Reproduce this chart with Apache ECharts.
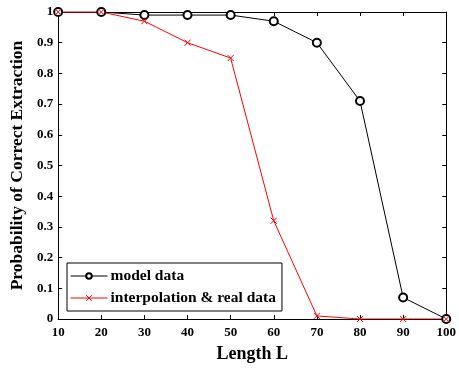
<!DOCTYPE html>
<html><head><meta charset="utf-8">
<script src="https://cdn.jsdelivr.net/npm/echarts@6/dist/echarts.min.js"></script>
<style>html,body{margin:0;padding:0;background:#fff}#c{width:459px;height:369px}</style>
</head><body><div id="c"></div>
<script>
var lengths = [10, 20, 30, 40, 50, 60, 70, 80, 90, 100];
var modelData = [1, 1, 0.99, 0.99, 0.99, 0.97, 0.90, 0.71, 0.07, 0];
var interpData = [1, 1, 0.97, 0.90, 0.85, 0.32, 0.01, 0, 0, 0];
var seriesNames = ['model data', 'interpolation & real data'];
var xTitle = 'Length L';
var yTitle = 'Probability of Correct Extraction';

var font = 'Liberation Serif';
function pairs(xs, ys){ return xs.map(function(x,i){ return [x, ys[i]]; }); }
var chart = echarts.init(document.getElementById('c'));
var axisCommon = {
  axisLine:{show:true, onZero:false, lineStyle:{color:'#000', width:1}},
  axisTick:{show:true, inside:true, length:4, lineStyle:{color:'#000'}},
  splitLine:{show:false}
};
chart.setOption({
  animation:false,
  backgroundColor:'#fff',
  grid:{left:55, right:12, top:12, bottom:50},
  legend:{
    left:67, top:263, orient:'vertical', itemWidth:37, itemHeight:7, itemGap:6,
    borderColor:'#000', borderWidth:1, padding:[5,6,5,3],
    lineStyle:{width:1}, itemStyle:{borderWidth:1},
    textStyle:{fontFamily:font, fontWeight:'bold', fontSize:15.5, color:'#000', padding:[0,0,0,-2]},
    data:seriesNames
  },
  xAxis:[Object.assign({type:'value', min:10, max:100, interval:10,
    name:xTitle, nameLocation:'middle', nameGap:26,
    nameTextStyle:{fontFamily:font, fontWeight:'bold', fontSize:18, color:'#000'},
    axisLabel:{fontFamily:font, fontWeight:'bold', fontSize:13, color:'#000', margin:7}}, axisCommon),
    Object.assign({type:'value', position:'top', min:10, max:100, interval:10, axisLabel:{show:false}}, axisCommon)],
  yAxis:[Object.assign({type:'value', min:0, max:1, interval:0.1,
    name:yTitle, nameLocation:'middle', nameGap:24,
    nameTextStyle:{fontFamily:font, fontWeight:'bold', fontSize:17.5, color:'#000'},
    axisLabel:{fontFamily:font, fontWeight:'bold', fontSize:13, color:'#000', margin:5,
      formatter:function(v){ return String(Math.round(v*10)/10); }}}, axisCommon),
    Object.assign({type:'value', position:'right', min:0, max:1, interval:0.1, axisLabel:{show:false}}, axisCommon)],
  series:[
    {name:seriesNames[0], type:'line', data:pairs(lengths, modelData),
     symbol:'emptyCircle', symbolSize:8,
     lineStyle:{color:'#000', width:1}, itemStyle:{color:'#000', borderColor:'#000', borderWidth:1}},
    {name:seriesNames[1], type:'line', data:pairs(lengths, interpData),
     symbol:'path://M0,0L10,10M10,0L0,10', symbolSize:6, symbolKeepAspect:true,
     lineStyle:{color:'#ff0000', width:1}, itemStyle:{color:'#ff0000', borderColor:'#ff0000', borderWidth:1}}
  ]
});
</script></body></html>
